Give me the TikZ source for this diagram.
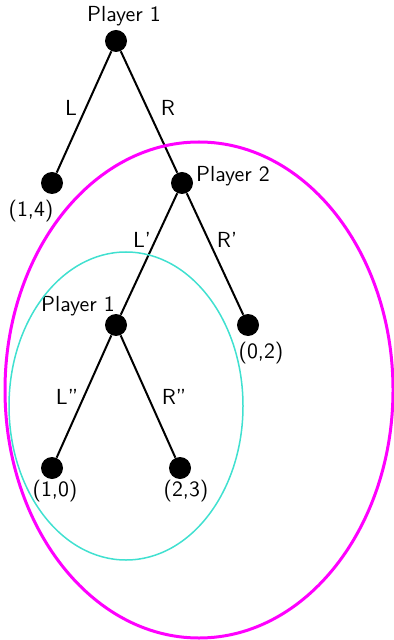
\documentclass[tikz,border=0pt]{standalone}
\usetikzlibrary{shapes.geometric}
\definecolor{turq}{RGB}{64,224,208}
\definecolor{magen}{RGB}{255,0,255}
\begin{document}
\begin{tikzpicture}[x=0.5pt,y=-0.5pt,
  dot/.style={circle,fill=black,inner sep=0pt,minimum size=11pt},
  lbl/.style={font=\sffamily\fontsize{10.9}{13}\selectfont,inner sep=0pt},
  edge/.style={line width=1pt}]
\useasboundingbox (0,0) rectangle (394,640);
\node[dot] (a) at (116,41) {};
\node[dot] (b) at (52,183) {};
\node[dot] (c) at (182,183) {};
\node[dot] (d) at (116,325) {};
\node[dot] (e) at (248,325) {};
\node[dot] (f) at (52,468) {};
\node[dot] (g) at (180,468) {};
\draw[edge] (a) -- (b);
\draw[edge] (a) -- (c);
\draw[edge] (c) -- (d);
\draw[edge] (c) -- (e);
\draw[edge] (d) -- (f);
\draw[edge] (d) -- (g);
\node[lbl] (t1) at (124,16) {Player 1};
\node[lbl] (tL) at (71,108) {L};
\node[lbl] (tR) at (168,108) {R};
\node[lbl] (t14) at (31,211) {(1,4)};
\node[lbl] (t2) at (233,176) {Player 2};
\node[lbl] (tL1) at (142,240) {L'};
\node[lbl] (tR1) at (227,240) {R'};
\node[lbl] (t3) at (78,306) {Player 1};
\node[lbl] (t02) at (261,353) {(0,2)};
\node[lbl] (tL2) at (67,397) {L''};
\node[lbl] (tR2) at (174,397) {R''};
\node[lbl] (t10) at (55,491) {(1,0)};
\node[lbl] (t23) at (186,491) {(2,3)};
\draw[magen,line width=1.5pt] (199,390) ellipse [x radius=194, y radius=248];
\draw[turq,line width=0.75pt] (126,406) ellipse [x radius=117, y radius=154];
\end{tikzpicture}
\end{document}
